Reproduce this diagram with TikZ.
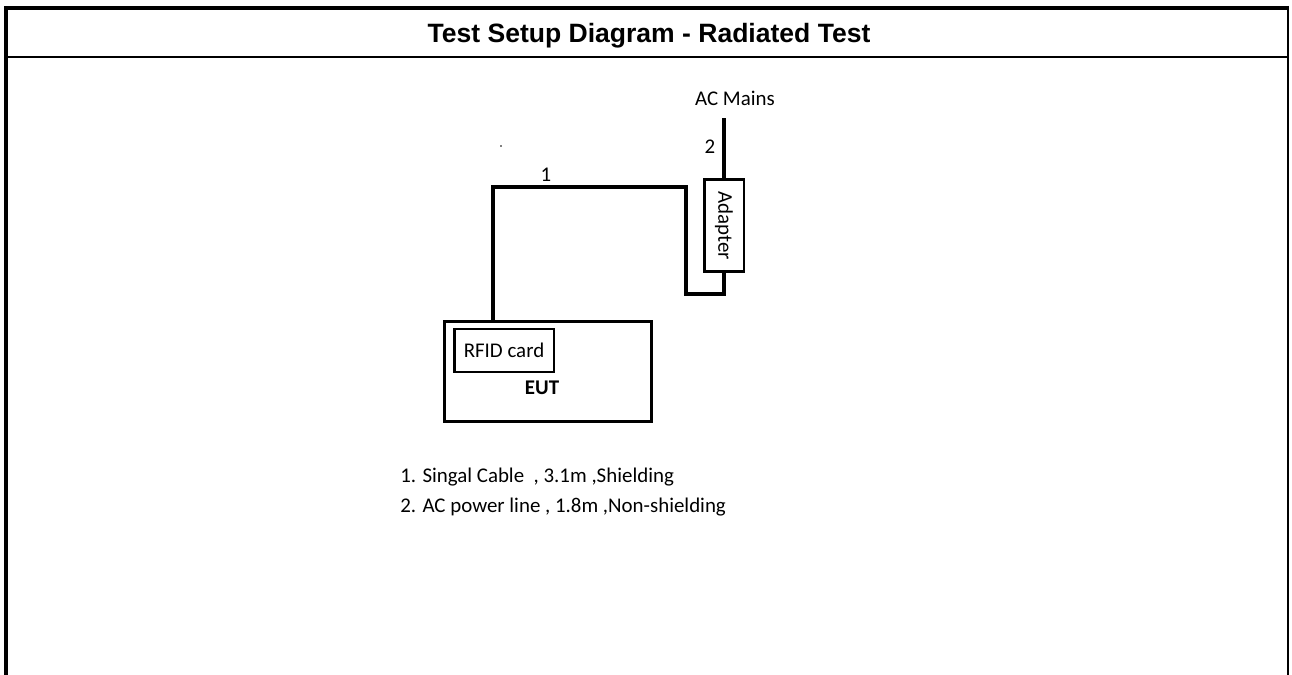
\documentclass[tikz,border=0pt]{standalone}
\usepackage{fontspec}
\setmainfont{Carlito}
\newfontfamily\titlefont{Liberation Sans}
\usetikzlibrary{positioning}

\begin{document}
\begin{tikzpicture}[x=0.02cm,y=-0.02cm]
		\tikzstyle{every node}+=[inner sep=0pt, font=\fontsize{11.9}{13}\selectfont]
		\tikzstyle{wire}=[line width=1.9pt]
		\tikzstyle{box}=[draw, line width=1.7pt]
		\useasboundingbox (0,0) rectangle (1292,675);
		% frame
		\draw [line width=2.3pt] (6,675) -- (6,8) -- (1287,8);
		\draw [line width=1.2pt] (1288,6) -- (1288,675);
		\draw [line width=1.2pt] (6,57) -- (1288,57);
		\node (title) at (649,36) {\titlefont\bfseries\fontsize{15.1}{17}\selectfont Test Setup Diagram - Radiated Test};
		% EUT
		\node [box, minimum width=4.16cm, minimum height=2.02cm] (eut) at (548,371.5) {};
		\node [box, minimum width=2cm, minimum height=0.86cm] (rfid) at (504,350.5) {RFID card};
		\node (eutlabel) at (542,388) {\bfseries EUT};
		% adapter
		\node [box, minimum width=0.8cm, minimum height=1.84cm] (adapter) at (724,225.5) {\rotatebox{-90}{Adapter}};
		% cables
		\coordinate (c1) at (493,187);
		\coordinate (c2) at (686,187);
		\coordinate (c3) at (686,294);
		\coordinate (mains) at (724,118);
		\draw [wire] (c1 |- eut.north) -- (c1) -- (c2) -- (c3) -- (c3 -| adapter.south) -- (adapter.south);
		\draw [wire] (adapter.north) -- (mains);
		\node (acmains) at (735,98) {AC Mains};
		\node (n1) at (546,175) {1};
		\node (n2) at (710,147) {2};
		\fill (501,146) circle (0.8);
		% legend
		\node [anchor=west] (leg1) at (400,477) {1. Singal Cable\ \ , 3.1m ,Shielding};
		\node [anchor=west] (leg2) at (400,507) {2. AC power line , 1.8m ,Non-shielding};
\end{tikzpicture}
\end{document}
